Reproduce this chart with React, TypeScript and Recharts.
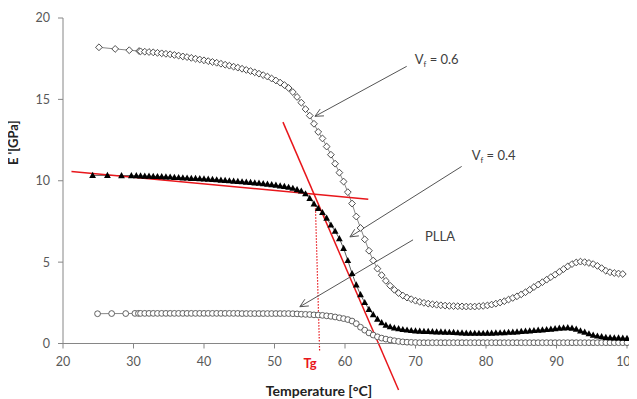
import React from 'react';
import { LineChart, Line, XAxis, YAxis, ReferenceLine } from 'recharts';

// Temperature sampling of the dense measurement region (°C)
const temps = [
  31.0, 31.6, 32.2, 32.8, 33.4, 34.0, 34.6, 35.2, 35.8, 36.4,
  37.0, 37.6, 38.2, 38.8, 39.4, 40.0, 40.6, 41.2, 41.8, 42.4,
  43.0, 43.6, 44.2, 44.8, 45.4, 46.0, 46.6, 47.2, 47.8, 48.4,
  49.0, 49.6, 50.2, 50.8, 51.4, 52.0, 52.6, 53.2, 53.8, 54.4,
  55.0, 55.6, 56.2, 56.8, 57.4, 58.0, 58.6, 59.2, 59.8, 60.4,
  61.0, 61.6, 62.2, 62.8, 63.4, 64.0, 64.6, 65.2, 65.8, 66.4,
  67.0, 67.6, 68.2, 68.8, 69.4, 70.0, 70.6, 71.2, 71.8, 72.4,
  73.0, 73.6, 74.2, 74.8, 75.4, 76.0, 76.6, 77.2, 77.8, 78.4,
  79.0, 79.6, 80.2, 80.8, 81.4, 82.0, 82.6, 83.2, 83.8, 84.4,
  85.0, 85.6, 86.2, 86.8, 87.4, 88.0, 88.6, 89.2, 89.8, 90.4,
  91.0, 91.6, 92.2, 92.8, 93.4, 94.0, 94.6, 95.2, 95.8, 96.4,
  97.0, 97.6, 98.2, 98.8, 99.4, 100.0,
];

// Vf = 0.6 (open diamonds)
const vf06Start = [[25.1, 18.2], [27.4, 18.1], [29.4, 18.02], [30.8, 17.97]];
const vf06 = [
  17.95, 17.93, 17.91, 17.89, 17.86, 17.83, 17.8, 17.77, 17.73, 17.69,
  17.64, 17.6, 17.55, 17.5, 17.45, 17.4, 17.35, 17.3, 17.25, 17.19,
  17.13, 17.07, 17.01, 16.95, 16.88, 16.81, 16.74, 16.66, 16.58, 16.49,
  16.4, 16.28, 16.16, 16.03, 15.88, 15.7, 15.45, 15.15, 14.8, 14.4,
  14.0, 13.5, 13.0, 12.6, 12.1, 11.6, 11.05, 10.5, 9.95, 9.3,
  8.6, 7.8, 7.1, 6.4, 5.7, 5.1, 4.6, 4.2, 3.85, 3.55,
  3.3, 3.1, 2.95, 2.82, 2.72, 2.63, 2.56, 2.5, 2.45, 2.41,
  2.38, 2.35, 2.33, 2.31, 2.3, 2.29, 2.28, 2.27, 2.27, 2.27,
  2.29, 2.31, 2.34, 2.39, 2.45, 2.52, 2.6, 2.7, 2.8, 2.9,
  3.02, 3.15, 3.3, 3.47, 3.62, 3.77, 3.92, 4.08, 4.23, 4.4,
  4.57, 4.74, 4.88, 4.98, 5.03, 5.0, 4.95, 4.88, 4.77, 4.63,
  4.47, 4.38, 4.33, 4.3, 4.27,
];

// Vf = 0.4 (filled triangles)
const vf04Start = [[24.2, 10.33], [26.3, 10.33], [28.3, 10.32], [29.7, 10.32], [30.4, 10.31]];
const vf04 = [
  10.3, 10.29, 10.28, 10.27, 10.26, 10.25, 10.24, 10.23, 10.21, 10.2,
  10.18, 10.17, 10.15, 10.14, 10.13, 10.12, 10.1, 10.08, 10.06, 10.04,
  10.02, 10.0, 9.98, 9.96, 9.94, 9.92, 9.9, 9.87, 9.85, 9.82,
  9.79, 9.76, 9.73, 9.69, 9.65, 9.6, 9.54, 9.46, 9.37, 9.2,
  8.92, 8.58, 8.3, 8.05, 7.7, 7.28, 6.9, 6.45, 5.85, 5.1,
  4.3, 3.6, 3.0, 2.52, 2.1, 1.78, 1.5, 1.28, 1.13, 1.03,
  0.96, 0.91, 0.86, 0.83, 0.8, 0.78, 0.76, 0.75, 0.74, 0.73,
  0.72, 0.71, 0.7, 0.69, 0.68, 0.66, 0.65, 0.64, 0.63, 0.63,
  0.63, 0.63, 0.64, 0.64, 0.65, 0.66, 0.67, 0.69, 0.7, 0.72,
  0.74, 0.76, 0.78, 0.8, 0.82, 0.84, 0.86, 0.88, 0.91, 0.94,
  0.96, 0.97, 0.95, 0.88, 0.78, 0.7, 0.6, 0.52, 0.46, 0.42,
  0.38, 0.36, 0.35, 0.34, 0.33, 0.32,
];

// PLLA (open circles)
const pllaStart = [[24.9, 1.83], [26.9, 1.84], [28.9, 1.84], [30.2, 1.85], [30.7, 1.85]];
const plla = [
  1.85, 1.85, 1.85, 1.85, 1.85, 1.85, 1.85, 1.85, 1.85, 1.85,
  1.85, 1.85, 1.85, 1.85, 1.85, 1.85, 1.85, 1.85, 1.85, 1.85,
  1.85, 1.85, 1.85, 1.85, 1.84, 1.84, 1.84, 1.84, 1.84, 1.84,
  1.84, 1.84, 1.84, 1.84, 1.84, 1.84, 1.83, 1.82, 1.8, 1.79,
  1.78, 1.76, 1.75, 1.73, 1.7, 1.67, 1.63, 1.58, 1.53, 1.47,
  1.38, 1.22, 1.0, 0.82, 0.65, 0.52, 0.41, 0.33, 0.27, 0.22,
  0.17, 0.13, 0.1, 0.08, 0.07, 0.06, 0.05, 0.05, 0.05, 0.05,
  0.05, 0.05, 0.05, 0.05, 0.05, 0.05, 0.05, 0.05, 0.05, 0.05,
  0.05, 0.05, 0.05, 0.05, 0.05, 0.05, 0.05, 0.05, 0.05, 0.05,
  0.05, 0.05, 0.05, 0.05, 0.05, 0.05, 0.05, 0.05, 0.05, 0.05,
  0.05, 0.05, 0.05, 0.05, 0.05, 0.05, 0.05, 0.05, 0.05, 0.05,
  0.05, 0.05, 0.05, 0.05, 0.05, 0.05,
];

const xTicks = [20, 30, 40, 50, 60, 70, 80, 90, 100];
const yTicks = [0, 5, 10, 15, 20];

// Tangent construction for Tg (data coordinates)
const tangentGlassy = [{ x: 21.2, y: 10.57 }, { x: 63.3, y: 8.87 }];
const tangentDrop = [{ x: 51.2, y: 13.6 }, { x: 67.6, y: -2.86 }];
const tgMarker = [{ x: 55.8, y: 8.5 }, { x: 56.4, y: -0.5 }];

// Annotation arrows (data coordinates): tail -> head
const arrowVf06 = [{ x: 68.75, y: 17.03 }, { x: 55.74, y: 13.96 }];
const arrowVf04 = [{ x: 76.55, y: 10.88 }, { x: 60.7, y: 6.55 }];
const arrowPlla = [{ x: 69.65, y: 6.37 }, { x: 53.6, y: 2.26 }];

const toPoints = (start: number[][], vals: number[]) => [
  ...start.map(([t, e]) => ({ t, e })),
  ...vals.map((e, i) => ({ t: temps[i], e })),
];

const dataVf06 = toPoints(vf06Start, vf06);
const dataVf04 = toPoints(vf04Start, vf04);
const dataPlla = toPoints(pllaStart, plla);

const FONT = 'Lato, "Open Sans", sans-serif';
const TEXT = '#404040';

const DiamondDot = (p: any) => {
  const { cx, cy, index } = p;
  if (cx == null || cy == null) return <g key={`dd-${index}`} />;
  const s = 3.4;
  return (
    <path
      key={`dd-${index}`}
      d={`M${cx},${cy - s}L${cx + s},${cy}L${cx},${cy + s}L${cx - s},${cy}Z`}
      fill="#fff"
      stroke="#3a3a3a"
      strokeWidth={0.9}
    />
  );
};

const TriangleDot = (p: any) => {
  const { cx, cy, index } = p;
  if (cx == null || cy == null) return <g key={`td-${index}`} />;
  return (
    <path
      key={`td-${index}`}
      d={`M${cx},${cy - 3.6}L${cx + 3.4},${cy + 2.6}L${cx - 3.4},${cy + 2.6}Z`}
      fill="#000"
    />
  );
};

const CircleDot = (p: any) => {
  const { cx, cy, index } = p;
  if (cx == null || cy == null) return <g key={`cd-${index}`} />;
  return <circle key={`cd-${index}`} cx={cx} cy={cy} r={2.9} fill="#fff" stroke="#505050" strokeWidth={0.9} />;
};

const makeArrow = (label: React.ReactNode, dx: number, dy: number) => (p: any) => {
  const { x1, y1, x2, y2 } = p;
  const ang = Math.atan2(y2 - y1, x2 - x1);
  const L = 9;
  const a = 0.45;
  const hx1 = x2 - L * Math.cos(ang - a);
  const hy1 = y2 - L * Math.sin(ang - a);
  const hx2 = x2 - L * Math.cos(ang + a);
  const hy2 = y2 - L * Math.sin(ang + a);
  return (
    <g>
      <line x1={x1} y1={y1} x2={x2} y2={y2} stroke="#555" strokeWidth={1} />
      <polyline points={`${hx1},${hy1} ${x2},${y2} ${hx2},${hy2}`} fill="none" stroke="#555" strokeWidth={1} />
      <text x={x1 + dx} y={y1 + dy} fontFamily={FONT} fontSize={13} fill={TEXT}>
        {label}
      </text>
    </g>
  );
};

const vfLabel = (v: string) => (
  <>
    <tspan>V</tspan>
    <tspan fontSize={8} dy={3}>f</tspan>
    <tspan dy={-3}>{` = ${v}`}</tspan>
  </>
);

const redLine = (p: any) => (
  <line x1={p.x1} y1={p.y1} x2={p.x2} y2={p.y2} stroke="#e8161b" strokeWidth={1.5} />
);

const tgShape = (p: any) => (
  <g>
    <line x1={p.x1} y1={p.y1} x2={p.x2} y2={p.y2} stroke="#e8161b" strokeWidth={1.2} strokeDasharray="1.5 1.5" />
    <text x={p.x2 - 3} y={p.y2 + 16} textAnchor="end" fontFamily={FONT} fontWeight="bold" fontSize={13} fill="#e8161b">
      Tg
    </text>
  </g>
);

const XLabel = (p: any) => {
  const vb = p.viewBox;
  return (
    <text x={vb.x + vb.width / 2 - 26} y={vb.y + vb.height + 22} textAnchor="middle" fontFamily={FONT} fontWeight="bold" fontSize={14} fill="#222">
      Temperature [°C]
    </text>
  );
};

const YLabel = (p: any) => {
  const vb = p.viewBox;
  const cx = vb.x + 5;
  const cy = vb.y + vb.height / 2 - 38;
  return (
    <text x={cx} y={cy} transform={`rotate(-90, ${cx}, ${cy})`} textAnchor="middle" dominantBaseline="central" fontFamily={FONT} fontWeight="bold" fontSize={13} fill="#222">
      E '[GPa]
    </text>
  );
};

export default function App() {
  return (
    <div style={{ position: 'relative', left: -8, top: -8, width: 637, height: 399 }}>
      <LineChart width={637} height={399} margin={{ top: 18, right: 10, bottom: 25, left: 8 }}>
        <XAxis
          dataKey="t"
          type="number"
          domain={[20, 100]}
          ticks={xTicks}
          allowDuplicatedCategory={false}
          height={30.5}
          axisLine={{ stroke: '#868686' }}
          tickLine={{ stroke: '#868686' }}
          tickSize={5}
          tickMargin={9}
          tick={{ fill: '#595959', fontSize: 12.5, fontFamily: FONT }}
          label={{ content: XLabel }}
        />
        <YAxis
          type="number"
          domain={[0, 20]}
          ticks={yTicks}
          width={55}
          axisLine={{ stroke: '#868686' }}
          tickLine={{ stroke: '#868686' }}
          tickSize={5}
          tickMargin={8}
          tick={{ fill: '#595959', fontSize: 12.5, fontFamily: FONT }}
          label={{ content: YLabel }}
        />
        <Line data={dataVf06} dataKey="e" stroke="#6a6a6a" strokeWidth={0.8} dot={DiamondDot} isAnimationActive={false} />
        <Line data={dataPlla} dataKey="e" stroke="#6a6a6a" strokeWidth={0.8} dot={CircleDot} isAnimationActive={false} />
        <Line data={dataVf04} dataKey="e" stroke="#333" strokeWidth={0.8} dot={TriangleDot} isAnimationActive={false} />
        <ReferenceLine segment={tangentGlassy} ifOverflow="visible" shape={redLine} />
        <ReferenceLine segment={tangentDrop} ifOverflow="visible" shape={redLine} />
        <ReferenceLine segment={tgMarker} ifOverflow="visible" shape={tgShape} />
        <ReferenceLine segment={arrowVf06} ifOverflow="visible" shape={makeArrow(vfLabel('0.6'), 8, -2)} />
        <ReferenceLine segment={arrowVf04} ifOverflow="visible" shape={makeArrow(vfLabel('0.4'), 10, -6)} />
        <ReferenceLine segment={arrowPlla} ifOverflow="visible" shape={makeArrow('PLLA', 12, 1)} />
      </LineChart>
    </div>
  );
}
